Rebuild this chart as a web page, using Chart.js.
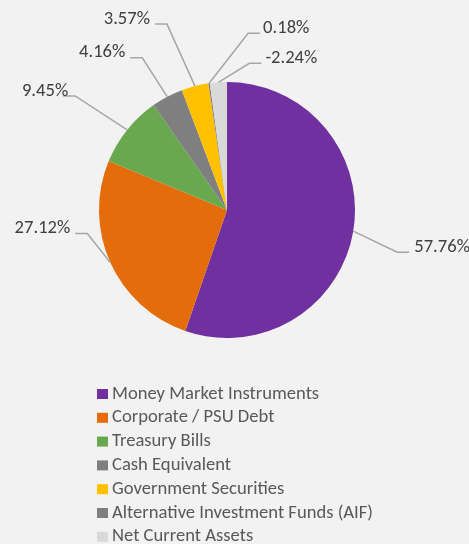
<!DOCTYPE html>
<html>
<head>
<meta charset="utf-8">
<script src="https://cdn.jsdelivr.net/npm/chart.js@4.4.1/dist/chart.umd.min.js"></script>
<style>
  html, body { margin: 0; padding: 0; background: #F2F2F2; }
  canvas { display: block; }
</style>
</head>
<body>
<canvas id="c" width="469" height="544"></canvas>
<script>
// ---- Data ----
const categories = [
  "Money Market Instruments",
  "Corporate / PSU Debt",
  "Treasury Bills",
  "Cash Equivalent",
  "Government Securities",
  "Alternative Investment Funds (AIF)",
  "Net Current Assets"
];
const values = [57.76, 27.12, 9.45, 4.16, 3.57, 0.18, -2.24];
const valueLabels = ["57.76%", "27.12%", "9.45%", "4.16%", "3.57%", "0.18%", "-2.24%"];
const colors = ["#7030A0", "#E46C0A", "#6AA84F", "#7F7F7F", "#FFC000", "#7F7F7F", "#D9D9D9"];

// ---- Label layout (elbow offset from slice edge, text gap) ----
const labelElbow = [[44, 21], [-23, -29], [-52, -34], [-25, -39], [-28, -62], [39, -50], [31, -19]];
const labelGap = [5, 5, -5, 5, 5, 3, 4];

const LABEL_FONT = '18.6px Carlito, Lato, sans-serif';
const LEGEND_FONT = '18.6px Carlito, Lato, sans-serif';

const labelPlugin = {
  id: 'labelPlugin',
  afterDraw(chart) {
    const ctx = chart.ctx;
    const meta = chart.getDatasetMeta(0);
    ctx.save();
    meta.data.forEach((arc, i) => {
      const p = arc.getProps(['x', 'y', 'startAngle', 'endAngle', 'outerRadius'], true);
      const mid = (p.startAngle + p.endAngle) / 2;
      const ax = p.x + Math.cos(mid) * p.outerRadius;
      const ay = p.y + Math.sin(mid) * p.outerRadius;
      const ex = ax + labelElbow[i][0];
      const ey = ay + labelElbow[i][1];
      const dir = labelElbow[i][0] >= 0 ? 1 : -1;
      const sx = ex + dir * 12;
      ctx.strokeStyle = '#A6A6A6';
      ctx.lineWidth = 1.5;
      ctx.beginPath();
      ctx.moveTo(ax, ay);
      ctx.lineTo(ex, ey);
      ctx.lineTo(sx, ey);
      ctx.stroke();
      ctx.font = LABEL_FONT;
      ctx.fillStyle = '#404040';
      ctx.textBaseline = 'middle';
      ctx.textAlign = dir > 0 ? 'left' : 'right';
      ctx.fillText(valueLabels[i], sx + dir * labelGap[i], ey - 5);
    });
    // Legend
    const items = chart.data.labels;
    items.forEach((lab, i) => {
      const cy = 394 + i * 23.8;
      ctx.fillStyle = chart.data.datasets[0].backgroundColor[i];
      ctx.fillRect(97, cy - 5, 11, 10);
      ctx.font = LEGEND_FONT;
      ctx.fillStyle = '#595959';
      ctx.textAlign = 'left';
      ctx.textBaseline = 'middle';
      ctx.fillText(lab, 112, cy);
    });
    ctx.restore();
  }
};

new Chart(document.getElementById('c'), {
  type: 'pie',
  data: {
    labels: categories,
    datasets: [{
      data: values.map(v => Math.abs(v)),
      backgroundColor: colors,
      borderWidth: 0,
      hoverBorderWidth: 0,
      hoverOffset: 0
    }]
  },
  options: {
    responsive: false,
    animation: false,
    layout: { padding: { left: 99, right: 114, top: 82, bottom: 206 } },
    plugins: {
      legend: { display: false },
      tooltip: { enabled: false }
    }
  },
  plugins: [labelPlugin]
});
</script>
</body>
</html>
